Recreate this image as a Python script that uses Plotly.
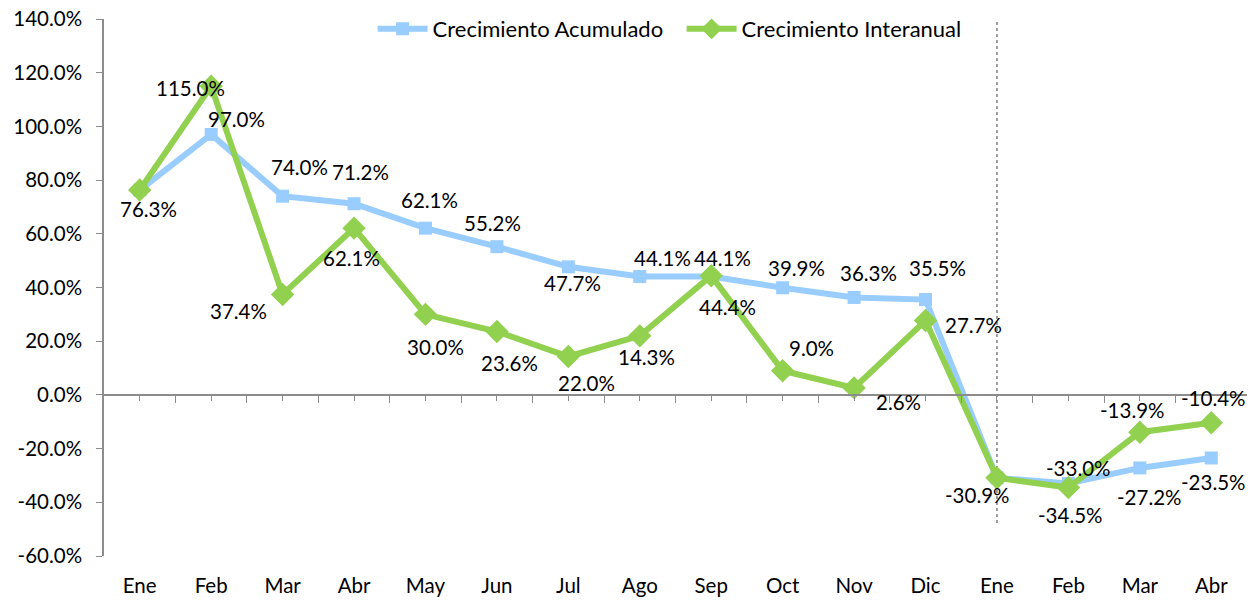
import plotly.graph_objects as go

months = ["Ene", "Feb", "Mar", "Abr", "May", "Jun", "Jul", "Ago", "Sep", "Oct", "Nov", "Dic",
          "Ene", "Feb", "Mar", "Abr"]
acumulado = [76.3, 97.0, 74.0, 71.2, 62.1, 55.2, 47.7, 44.1, 44.1, 39.9, 36.3, 35.5,
             -30.9, -33.0, -27.2, -23.5]
interanual = [76.3, 115.0, 37.4, 62.1, 30.0, 23.6, 14.3, 22.0, 44.4, 9.0, 2.6, 27.7,
              -30.9, -34.5, -13.9, -10.4]
# data labels as printed on the original chart
acumulado_labels = ["76.3%", "97.0%", "74.0%", "71.2%", "62.1%", "55.2%", "47.7%", "44.1%",
                    "44.1%", "39.9%", "36.3%", "35.5%", "-30.9%", "-33.0%", "-27.2%", "-23.5%"]
interanual_labels = ["", "115.0%", "37.4%", "62.1%", "30.0%", "23.6%", "22.0%", "14.3%",
                     "44.4%", "9.0%", "2.6%", "27.7%", "", "-34.5%", "-13.9%", "-10.4%"]
y_tick_values = [-60, -40, -20, 0, 20, 40, 60, 80, 100, 120, 140]
y_tick_labels = ["-60.0%", "-40.0%", "-20.0%", "0.0%", "20.0%", "40.0%", "60.0%", "80.0%",
                 "100.0%", "120.0%", "140.0%"]

# label offsets from their point, in pixels (dx right, dy down)
acum_offsets = [(9, 19), (25, -15), (17, -29), (6, -32), (4, -28), (-4, -24), (4, 16), (23, -18),
                (11, -18), (14, -20), (14, -24), (12, -32), (-19, 17), (10, -16), (10, 29), (2, 24)]
inter_offsets = [(0, 0), (-21, 2), (-44, 17), (-3, 30), (10, 33), (13, 31), (18, 26), (7, 21),
                 (16, 31), (29, -23), (44, 14), (48, 4), (0, 0), (2, 27), (-7, -22), (2, -25)]

FONT = "Lato"
BLUE = "#99CCFF"
GREEN = "#92D050"
AXIS = "#8C8C8C"
LABEL_SIZE = 20.5

idx = list(range(len(months)))

fig = go.Figure()
fig.add_trace(go.Scatter(
    x=idx, y=acumulado, name="Crecimiento Acumulado", mode="lines+markers",
    line=dict(color=BLUE, width=6), marker=dict(symbol="square", size=13, color=BLUE),
    cliponaxis=False))
fig.add_trace(go.Scatter(
    x=idx, y=interanual, name="Crecimiento Interanual", mode="lines+markers",
    line=dict(color=GREEN, width=6), marker=dict(symbol="diamond", size=18, color=GREEN),
    cliponaxis=False))
# helper trace so the zero-line axis exists
fig.add_trace(go.Scatter(x=[None], y=[None], xaxis="x2", showlegend=False, hoverinfo="skip"))

for vals, labels, offs in ((acumulado, acumulado_labels, acum_offsets),
                           (interanual, interanual_labels, inter_offsets)):
    for i, (v, t, (dx, dy)) in enumerate(zip(vals, labels, offs)):
        if not t:
            continue
        fig.add_annotation(x=i, y=v, xref="x", yref="y", text=t, showarrow=False,
                           xanchor="center", yanchor="middle", xshift=dx, yshift=-dy,
                           font=dict(family=FONT, size=LABEL_SIZE, color="black"))

fig.add_shape(type="line", xref="x", yref="y", x0=12, x1=12, y0=-47.7, y1=139,
              line=dict(color="#7F7F7F", width=1.5, dash="dot"), layer="below")

# the page body adds an 8px offset, so the figure is drawn 8px smaller
fig.update_layout(
    width=1249, height=593,
    margin=dict(l=96, r=10, t=11, b=45, autoexpand=False),
    paper_bgcolor="white", plot_bgcolor="white",
    font=dict(family=FONT, size=LABEL_SIZE, color="black"),
    showlegend=True,
    legend=dict(orientation="h", x=0.235, xanchor="left", yref="container", y=1.0,
                yanchor="top", bgcolor="rgba(0,0,0,0)", font=dict(family=FONT, size=22),
                itemwidth=50, entrywidth=244, tracegroupgap=0),
    xaxis=dict(range=[-0.5, 15.5], tickmode="array", tickvals=idx, ticktext=months,
               showline=False, showgrid=False, zeroline=False, ticks="", automargin=False,
               ticklabelstandoff=15, tickfont=dict(family=FONT, size=LABEL_SIZE)),
    xaxis2=dict(overlaying="x", anchor="free", position=0.3, range=[-0.5, 15.5],
                showline=True, linecolor=AXIS, linewidth=1.5, showgrid=False, zeroline=False,
                tickmode="array", tickvals=idx, ticks="outside", ticklen=5, tickcolor=AXIS,
                tickwidth=1, showticklabels=False, automargin=False,
                minor=dict(tickmode="array", tickvals=[i + 0.5 for i in idx[:-1]],
                           ticks="outside", ticklen=7, tickcolor=AXIS, tickwidth=1)),
    yaxis=dict(range=[-60, 140], tickmode="array", tickvals=y_tick_values, ticktext=y_tick_labels,
               showgrid=False, zeroline=False, automargin=False, ticklabelstandoff=10,
               ticklabeloverflow="allow",
               showline=True, linecolor=AXIS, linewidth=1.5, ticks="outside", ticklen=6,
               tickcolor=AXIS, tickfont=dict(family=FONT, size=LABEL_SIZE)),
)

fig.write_html("out.html")
